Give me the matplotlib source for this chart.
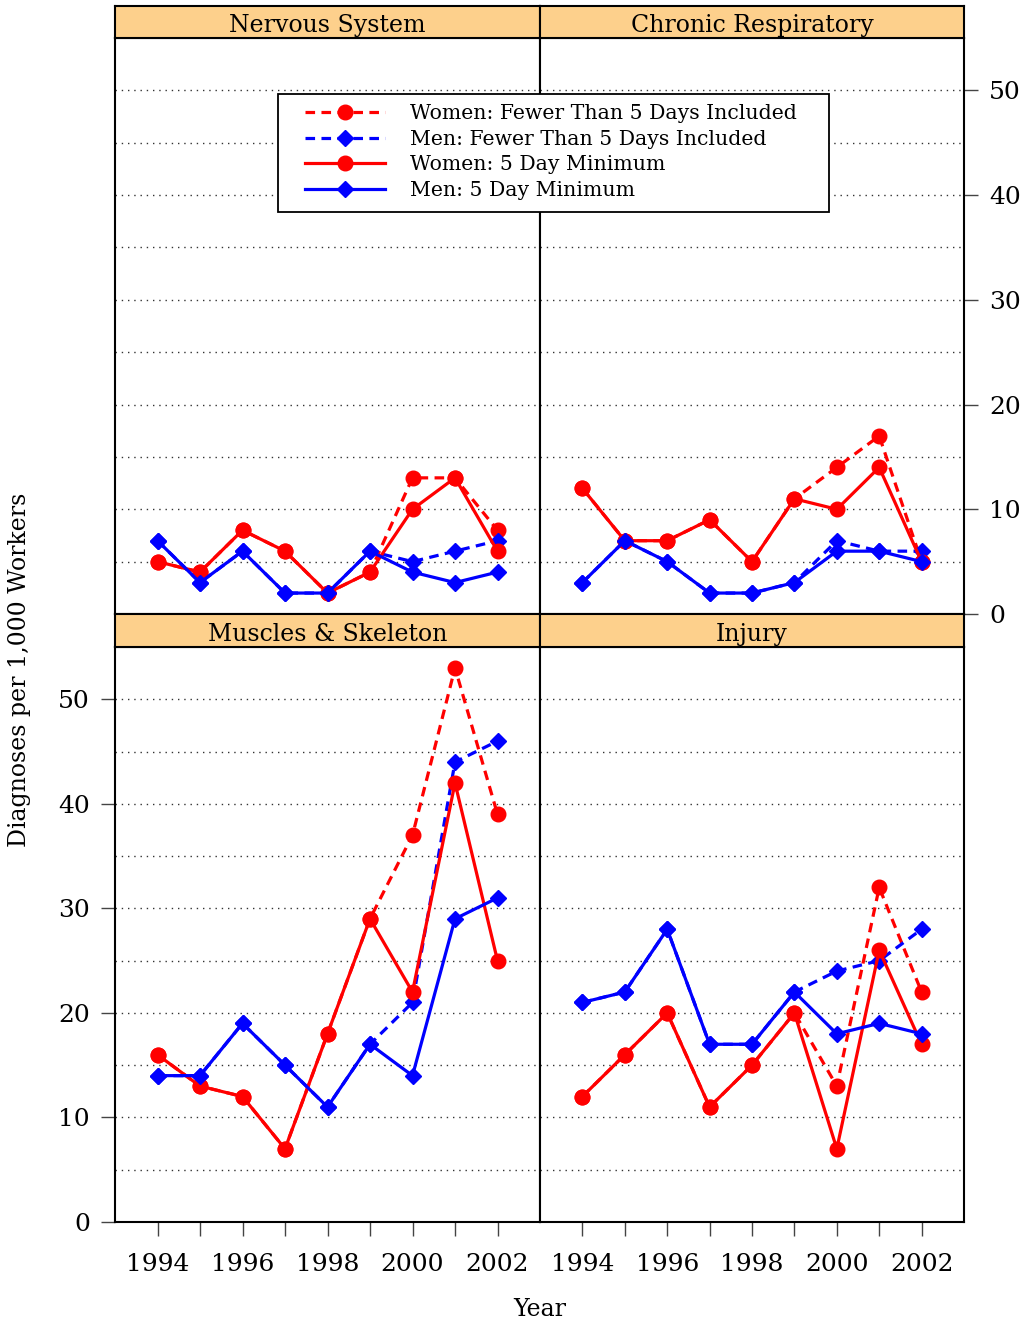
import matplotlib
matplotlib.use('Agg')
import matplotlib.pyplot as plt
from matplotlib.patches import Rectangle
import numpy as np

plt.rcParams['font.family'] = ['DejaVu Serif']

years = np.arange(1994, 2003)

panels = ['Nervous System', 'Chronic Respiratory', 'Muscles & Skeleton', 'Injury']

# Women, fewer than 5 days included (dashed)
women_all = {
    'Nervous System':      [5, 4, 8, 6, 2, 4, 13, 13, 8],
    'Chronic Respiratory': [12, 7, 7, 9, 5, 11, 14, 17, 5],
    'Muscles & Skeleton':  [16, 13, 12, 7, 18, 29, 37, 53, 39],
    'Injury':              [12, 16, 20, 11, 15, 20, 13, 32, 22],
}
# Men, fewer than 5 days included (dashed)
men_all = {
    'Nervous System':      [7, 3, 6, 2, 2, 6, 5, 6, 7],
    'Chronic Respiratory': [3, 7, 5, 2, 2, 3, 7, 6, 6],
    'Muscles & Skeleton':  [14, 14, 19, 15, 11, 17, 21, 44, 46],
    'Injury':              [21, 22, 28, 17, 17, 22, 24, 25, 28],
}
# Women, 5 day minimum (solid)
women_5 = {
    'Nervous System':      [5, 4, 8, 6, 2, 4, 10, 13, 6],
    'Chronic Respiratory': [12, 7, 7, 9, 5, 11, 10, 14, 5],
    'Muscles & Skeleton':  [16, 13, 12, 7, 18, 29, 22, 42, 25],
    'Injury':              [12, 16, 20, 11, 15, 20, 7, 26, 17],
}
# Men, 5 day minimum (solid)
men_5 = {
    'Nervous System':      [7, 3, 6, 2, 2, 6, 4, 3, 4],
    'Chronic Respiratory': [3, 7, 5, 2, 2, 3, 6, 6, 5],
    'Muscles & Skeleton':  [14, 14, 19, 15, 11, 17, 14, 29, 31],
    'Injury':              [21, 22, 28, 17, 17, 22, 18, 19, 18],
}

W, H = 1024, 1324
fig = plt.figure(figsize=(W / 100, H / 100), dpi=100)

def box(x0, y0, x1, y1):
    # pixel box -> figure fraction [left, bottom, width, height]
    return [x0 / W, 1 - y1 / H, (x1 - x0) / W, (y1 - y0) / H]

xcols = [(115, 540), (540, 964)]
rows = [(6, 38, 614), (614, 647, 1222)]   # strip top, plot top, plot bottom
strip_col = '#FDD08C'

handles = None
for k, name in enumerate(panels):
    r, c = divmod(k, 2)
    x0, x1 = xcols[c]
    st, pt, pb = rows[r]

    ax = fig.add_axes(box(x0, pt, x1, pb))
    for yv in range(5, 55, 5):
        ax.axhline(yv, color='#333333', lw=1.0, ls=(0, (1, 3.5)), zorder=0)
    h1, = ax.plot(years, women_all[name], color='red', ls=(0, (3, 2)), lw=2.3,
                  marker='o', ms=10.5, label='Women: Fewer Than 5 Days Included')
    h2, = ax.plot(years, men_all[name], color='blue', ls=(0, (3, 2)), lw=2.3,
                  marker='D', ms=8, label='Men: Fewer Than 5 Days Included')
    h3, = ax.plot(years, women_5[name], color='red', lw=2.3,
                  marker='o', ms=10.5, label='Women: 5 Day Minimum')
    h4, = ax.plot(years, men_5[name], color='blue', lw=2.3,
                  marker='D', ms=8, label='Men: 5 Day Minimum')
    handles = [h1, h2, h3, h4]
    ax.set_xlim(1993, 2003)
    ax.set_ylim(0, 55)
    for s in ax.spines.values():
        s.set_linewidth(1.5)

    ax.tick_params(direction='out', length=10, width=1.0, color='#444444',
                   labelsize=18, pad=12)
    ax.tick_params(axis='y', pad=8)
    ax.set_xticks(years)
    if r == 1:
        ax.set_xticklabels([str(y) if y % 2 == 0 else '' for y in years])
    else:
        ax.tick_params(axis='x', bottom=False, labelbottom=False)
    ax.set_yticks(range(0, 51, 10))
    if r == 1 and c == 0:
        ax.tick_params(axis='y', left=True, labelleft=True)
    elif r == 0 and c == 1:
        ax.tick_params(axis='y', left=False, labelleft=False,
                       right=True, labelright=True)
    else:
        ax.tick_params(axis='y', left=False, labelleft=False)

    sx = fig.add_axes(box(x0, st, x1, pt))
    sx.set_facecolor(strip_col)
    sx.set_xticks([])
    sx.set_yticks([])
    for s in sx.spines.values():
        s.set_linewidth(1.5)
    sx.text(0.5, 0.38, name, ha='center', va='center', fontsize=17,
            transform=sx.transAxes)

# legend: frame drawn as a patch, entries placed inside it
lx0, ly0, lx1, ly1 = 278, 94, 829, 212
fig.patches.append(Rectangle((lx0 / W, 1 - ly1 / H), (lx1 - lx0) / W,
                             (ly1 - ly0) / H, transform=fig.transFigure,
                             facecolor='white', edgecolor='black', lw=1.3,
                             zorder=5))
leg = fig.legend(handles=handles, loc='center left',
                 bbox_to_anchor=(305 / W, 1 - 152 / H), fontsize=14.7,
                 frameon=False, handlelength=3.9, handletextpad=1.25,
                 labelspacing=0.32, borderpad=0, borderaxespad=0)
leg.set_zorder(6)

fig.text(540 / W, 1 - 1310 / H, 'Year', ha='center', va='center', fontsize=17)
fig.text(20 / W, 1 - 670 / H, 'Diagnoses per 1,000 Workers', ha='center',
         va='center', rotation=90, fontsize=17)

fig.savefig('out.png', dpi=100)
